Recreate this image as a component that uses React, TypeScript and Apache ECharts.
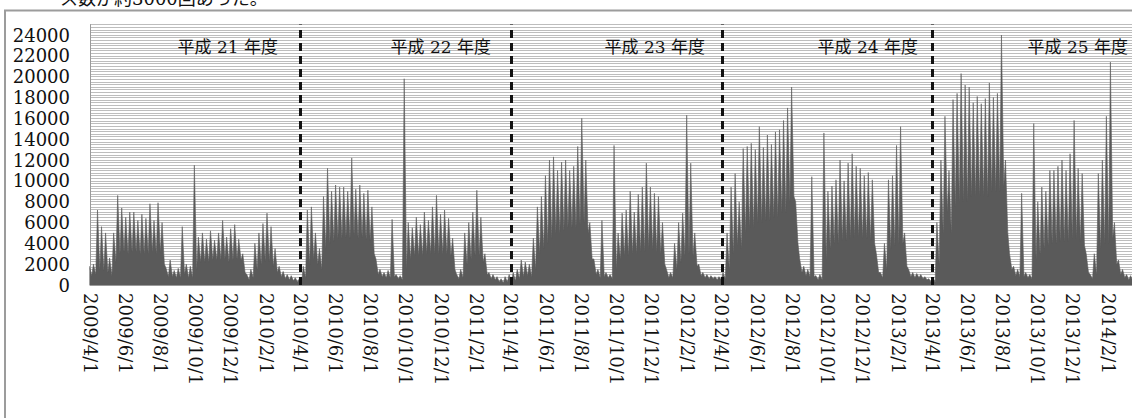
import React, { useEffect, useRef } from "react";
import * as echarts from "echarts";

// ---- data ----
// Each week starts on a Monday; first week starts 2009-03-30.
const firstWeekStart = "2009/3/30";

// weekly weekday peak (accesses per day)
const weekHigh = [
  1800, 2000, 7200, 5600, 5000, 2600, 5000, 8600, 7400, 6500,
  7000, 7000, 6200, 6800, 6400, 7800, 6200, 7900, 6000, 1600,
  2400, 1400, 1600, 5600, 2000, 1800, 11500, 4600, 5000, 4400,
  5200, 4300, 5000, 6200, 4600, 5400, 5800, 4400, 3000, 1000,
  1500, 4000, 5000, 5900, 6900, 5600, 3500, 1800, 1300, 1000,
  900, 700, 600, 1800, 7200, 7500, 5000, 3500, 8500, 11200,
  9000, 9600, 9400, 9400, 9000, 12200, 9200, 9600, 8800, 9100,
  7500, 2500, 1500, 1200, 1400, 6300, 1000, 900, 19800, 6000,
  5500, 6500, 5800, 7000, 6200, 7500, 8600, 6800, 7200, 6400,
  4500, 1000, 1500, 5000, 6000, 7000, 9100, 6500, 3000, 1200,
  1000, 800, 600, 800, 1000, 1200, 1500, 2400, 2200, 2000,
  4500, 7500, 8500, 10500, 12000, 12300, 11000, 11800, 12000, 11000,
  11400, 13300, 16000, 12000, 6000, 2500, 1500, 6200, 1200, 1000,
  13400, 5000, 6900, 7200, 9000, 7000, 8700, 9400, 11700, 9400,
  8800, 8500, 6000, 1500, 1200, 4000, 6000, 6900, 16300, 11700,
  5000, 2000, 1200, 1000, 900, 800, 800, 1200, 5000, 9400,
  10700, 8000, 13100, 13300, 13600, 13000, 15200, 13200, 14400, 13500,
  14700, 14900, 15800, 17000, 19000, 8000, 2500, 1800, 1500, 10400,
  900, 1000, 14600, 9000, 9500, 10100, 12000, 10000, 11700, 12600,
  11400, 11200, 10500, 10800, 10100, 3000, 1200, 4000, 10100, 10500,
  13400, 15200, 5000, 1500, 1200, 1100, 1000, 800, 600, 700,
  6000, 12000, 16200, 11000, 17800, 18400, 20300, 19200, 19000, 17500,
  18100, 17400, 17900, 19400, 18000, 18400, 24000, 12000, 3000, 1800,
  1500, 8800, 1200, 1000, 15500, 8000, 9400, 9000, 11000, 11000,
  11400, 12000, 11000, 12600, 15800, 11200, 10700, 3000, 1000, 3000,
  10700, 12000, 16200, 21400, 6000, 2400, 1500, 1000, 900, 800,
  700,
];

// weekly weekend trough
const weekLow = [
  900, 1000, 1500, 1400, 1200, 900, 2200, 3000, 3200, 3000,
  3200, 3200, 3000, 3000, 3000, 3200, 3000, 3200, 2000, 800,
  800, 700, 700, 1000, 700, 700, 1500, 2200, 2200, 2200,
  2400, 2400, 2400, 2500, 2200, 2400, 2500, 2400, 1200, 500,
  700, 1500, 2000, 2300, 2300, 1800, 1200, 800, 600, 500,
  400, 300, 200, 700, 2000, 2500, 2000, 1500, 3500, 4000,
  4200, 4500, 4500, 4600, 4500, 4800, 4500, 4600, 4400, 4300,
  3000, 1000, 800, 700, 700, 800, 600, 500, 1500, 2500,
  2800, 2800, 2800, 3000, 3000, 3000, 3000, 3000, 3000, 2800,
  1500, 600, 700, 2000, 2500, 2800, 2800, 2200, 1000, 600,
  500, 300, 200, 300, 300, 400, 600, 800, 900, 800,
  1500, 3000, 3500, 4000, 4500, 5000, 5000, 5200, 5500, 5500,
  5500, 5800, 6000, 5000, 2500, 1000, 700, 800, 700, 600,
  1500, 2500, 2800, 2800, 3000, 3000, 3200, 3200, 3500, 3400,
  3200, 3000, 2000, 700, 700, 1500, 2200, 2800, 3000, 2800,
  1800, 900, 700, 600, 600, 500, 500, 600, 1500, 3000,
  3800, 3500, 5000, 5500, 5500, 6000, 6000, 6200, 6200, 6500,
  6500, 7000, 7000, 8000, 8500, 4000, 1200, 900, 800, 800,
  500, 500, 2500, 3500, 4000, 4000, 4300, 4300, 4500, 4600,
  4600, 4500, 4500, 4300, 4000, 1200, 700, 1500, 3500, 3800,
  4000, 4000, 1800, 800, 700, 700, 600, 500, 300, 300,
  2000, 5000, 7000, 5000, 7500, 8000, 8000, 8000, 8500, 8500,
  8500, 8500, 8500, 9000, 9000, 9000, 9500, 5000, 1500, 900,
  800, 800, 700, 600, 2500, 3000, 3500, 3800, 4000, 4000,
  4200, 4200, 4200, 4500, 4500, 4200, 3800, 1200, 600, 1000,
  3500, 4000, 4000, 4500, 2000, 1000, 700, 500, 400, 400,
  300,
];

const axisStart = "2009/4/1";
const axisEnd = "2014/4/1";

const xTickLabels = [
  "2009/4/1", "2009/6/1", "2009/8/1", "2009/10/1", "2009/12/1", "2010/2/1",
  "2010/4/1", "2010/6/1", "2010/8/1", "2010/10/1", "2010/12/1", "2011/2/1",
  "2011/4/1", "2011/6/1", "2011/8/1", "2011/10/1", "2011/12/1", "2012/2/1",
  "2012/4/1", "2012/6/1", "2012/8/1", "2012/10/1", "2012/12/1", "2013/2/1",
  "2013/4/1", "2013/6/1", "2013/8/1", "2013/10/1", "2013/12/1", "2014/2/1",
];

const fiscalYearBoundaries = ["2010/4/1", "2011/4/1", "2012/4/1", "2013/4/1"];
const fiscalYearLabels = ["平成 21 年度", "平成 22 年度", "平成 23 年度", "平成 24 年度", "平成 25 年度"];
const fiscalYearLabelRight = [278, 491, 705, 918, 1128];

const yMax = 25000;
const yLabelStep = 2000;
const yGridStep = 250;

const captionText = "ス数が約3000回あった。";

const serif = "'DejaVu Serif', 'Noto Sans CJK JP', serif";

// the chart canvas is wider than the window: the reference is cropped on its right side
const canvasWidth = 1150;

function parseDate(s: string): number {
  const [y, m, d] = s.split("/").map(Number);
  return new Date(y, m - 1, d).getTime();
}

function buildSeries(): [number, number][] {
  const [y, m, d] = firstWeekStart.split("/").map(Number);
  const out: [number, number][] = [];
  for (let w = 0; w < weekHigh.length; w++) {
    out.push([new Date(y, m - 1, d + 7 * w + 1).getTime(), weekHigh[w]]);
    out.push([new Date(y, m - 1, d + 7 * w + 5).getTime(), weekLow[w]]);
  }
  return out;
}

export default function App() {
  const ref = useRef<HTMLDivElement>(null);

  useEffect(() => {
    if (!ref.current) return;
    const chart = echarts.init(ref.current, undefined, { renderer: "svg" });
    const tickValues = xTickLabels.map(parseDate);

    chart.setOption({
      animation: false,
      backgroundColor: "#ffffff",
      grid: {
        left: 90,
        right: canvasWidth - 1142.7,
        top: 24.6,
        bottom: 133,
        containLabel: false,
      },
      xAxis: {
        type: "value",
        min: parseDate(axisStart),
        max: parseDate(axisEnd),
        axisLine: { show: true, lineStyle: { color: "#9a9a9a", width: 1 } },
        axisTick: { show: false },
        splitLine: { show: false },
        axisLabel: {
          customValues: tickValues,
          rotate: -90,
          margin: 8,
          fontFamily: serif,
          fontSize: 18,
          color: "#111111",
          formatter: (v: number) => {
            const dt = new Date(v);
            return `${dt.getFullYear()}/${dt.getMonth() + 1}/${dt.getDate()}`;
          },
        },
      },
      yAxis: [
        {
          type: "value",
          min: 0,
          max: yMax,
          interval: yLabelStep,
          axisLine: { show: true, lineStyle: { color: "#9a9a9a", width: 1 } },
          axisTick: { show: false },
          splitLine: { show: false },
          axisLabel: {
            showMaxLabel: false,
            margin: 20,
            fontFamily: serif,
            fontSize: 18,
            color: "#111111",
            formatter: (v: number) => String(v),
          },
        },
        {
          type: "value",
          min: 0,
          max: yMax,
          interval: yGridStep,
          position: "left",
          axisLine: { show: false },
          axisTick: { show: false },
          axisLabel: { show: false },
          splitLine: { show: true, lineStyle: { color: "#bdbdbd", width: 1 } },
        },
      ],
      series: [
        {
          type: "line",
          yAxisIndex: 0,
          data: buildSeries(),
          symbol: "none",
          showSymbol: false,
          lineStyle: { color: "#5a5a5a", width: 0.6 },
          itemStyle: { color: "#5a5a5a" },
          areaStyle: { color: "#5a5a5a", opacity: 1 },
          z: 3,
          markLine: {
            silent: true,
            symbol: ["none", "none"],
            label: { show: false },
            lineStyle: { color: "#111111", width: 3, type: [8, 5] },
            data: fiscalYearBoundaries.map((s) => ({ xAxis: parseDate(s) })),
          },
        },
      ],
      graphic: [
        {
          type: "rect",
          silent: true,
          shape: { x: 5, y: 10.5, width: 1300, height: 600 },
          style: { fill: "none", stroke: "#9c9c9c", lineWidth: 2 },
          z: 100,
        },
        {
          type: "text",
          silent: true,
          x: 60,
          y: 7,
          style: {
            text: captionText,
            fontSize: 18,
            fontFamily: serif,
            fill: "#111111",
            align: "left",
            verticalAlign: "bottom",
          },
          z: 100,
        },
        ...fiscalYearLabels.map((t, i) => ({
          type: "text",
          silent: true,
          x: fiscalYearLabelRight[i],
          y: 47,
          style: {
            text: t,
            fontSize: 17,
            fontFamily: serif,
            fill: "#111111",
            align: "right",
            verticalAlign: "middle",
          },
          z: 100,
        })),
      ],
    });

    return () => chart.dispose();
  }, []);

  return (
    <div
      ref={ref}
      style={{ position: "fixed", left: 0, top: 0, width: canvasWidth, height: 418, background: "#fff" }}
    />
  );
}
